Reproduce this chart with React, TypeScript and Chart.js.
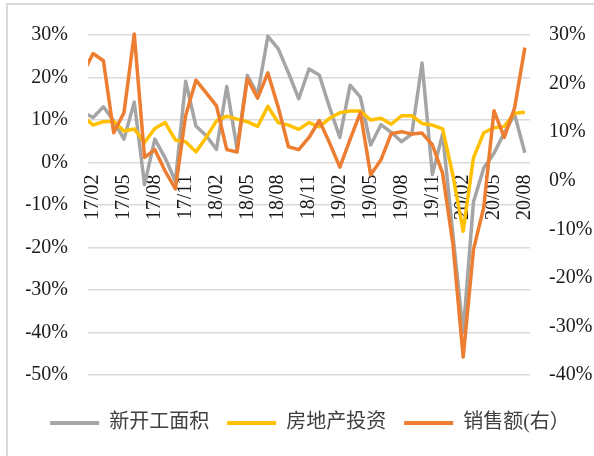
import { useEffect, useRef } from "react"
import { Chart, registerables } from "chart.js"

Chart.register(...registerables)

const FONT = '"Liberation Serif", "Noto Sans CJK SC", serif'

// monthly, yoy %
const months = [
  "17/01", "17/02", "17/03", "17/04", "17/05", "17/06", "17/07", "17/08", "17/09", "17/10", "17/11", "17/12",
  "18/01", "18/02", "18/03", "18/04", "18/05", "18/06", "18/07", "18/08", "18/09", "18/10", "18/11", "18/12",
  "19/01", "19/02", "19/03", "19/04", "19/05", "19/06", "19/07", "19/08", "19/09", "19/10", "19/11", "19/12",
  "20/01", "20/02", "20/03", "20/04", "20/05", "20/06", "20/07", "20/08",
]

// 新开工面积 (left axis)
const newStarts = [
  11.8, 10.6, 13.1, 9.8, 5.5, 14.2, -5.2, 5.5, 1.1, -4.4, 19.1, 8.6,
  6.3, 3.1, 17.9, 3.2, 20.5, 16.0, 29.7, 26.8, 21.1, 15.0, 22.0, 20.6,
  13.0, 5.9, 18.2, 15.4, 4.1, 8.9, 7.1, 4.9, 6.7, 23.4, -2.8, 6.7,
  -17.0, -40.0, -9.3, -1.3, 2.2, 7.0, 11.3, 2.3,
]

// 房地产投资 (left axis)
const investment = [
  10.9, 8.8, 9.6, 9.7, 7.4, 7.9, 4.7, 8.0, 9.4, 5.3, 4.9, 2.5,
  5.9, 9.8, 10.9, 10.2, 9.6, 8.5, 13.2, 9.4, 8.8, 7.8, 9.4, 8.4,
  10.4, 11.7, 12.1, 12.1, 10.0, 10.4, 9.0, 11.0, 11.0, 9.2, 8.8, 7.9,
  -3.0, -16.2, 1.1, 7.0, 8.2, 8.5, 11.6, 11.8,
]

// 销售额 (right axis)
const sales = [
  22.1, 26.2, 24.7, 9.9, 14.0, 30.2, 4.8, 6.4, 2.0, -1.7, 13.4, 20.7,
  18.1, 15.4, 6.4, 5.9, 21.0, 17.0, 22.2, 15.2, 7.0, 6.4, 8.9, 12.4,
  7.8, 2.8, 8.5, 14.0, 1.2, 4.3, 9.7, 10.1, 9.6, 9.8, 7.4, 1.5,
  -13.0, -36.3, -14.2, -5.5, 14.4, 8.9, 15.0, 27.4,
]

const leftRange = { min: -50, max: 30, step: 10 }
const rightRange = { min: -40, max: 30, step: 10 }

export default function App() {
  const canvasRef = useRef<HTMLCanvasElement>(null)
  const chartRef = useRef<Chart | null>(null)

  useEffect(() => {
    if (!canvasRef.current) return
    if (chartRef.current) chartRef.current.destroy()

    const clip = { left: 0, top: 5, right: 5, bottom: 5 }

    chartRef.current = new Chart(canvasRef.current, {
      type: "line",
      data: {
        labels: months,
        datasets: [
          {
            label: "新开工面积",
            data: newStarts,
            borderColor: "#a5a5a5",
            backgroundColor: "#a5a5a5",
            yAxisID: "y",
            order: 3,
            clip,
          },
          {
            label: "房地产投资",
            data: investment,
            borderColor: "#ffc000",
            backgroundColor: "#ffc000",
            yAxisID: "y",
            order: 2,
            clip,
          },
          {
            label: "销售额(右）",
            data: sales,
            borderColor: "#ed7d31",
            backgroundColor: "#ed7d31",
            yAxisID: "y1",
            order: 1,
            clip,
          },
        ],
      },
      options: {
        animation: false,
        responsive: true,
        maintainAspectRatio: false,
        elements: {
          line: { borderWidth: 3.5, tension: 0, borderJoinStyle: "round" },
          point: { radius: 0 },
        },
        layout: { padding: { left: 26, right: 0, top: 35, bottom: 13 } },
        plugins: {
          tooltip: { enabled: false },
          legend: {
            position: "bottom",
            // empty title only reserves the gap under the plot area
            title: { display: true, text: "", font: { size: 1, lineHeight: 1 }, padding: { top: 19, bottom: 0 } },
            labels: {
              boxWidth: 49,
              boxHeight: 4,
              padding: 18,
              color: "#404040",
              font: { family: FONT, size: 20 },
              sort: (a, b) => (a.datasetIndex ?? 0) - (b.datasetIndex ?? 0),
              generateLabels: (chart) =>
                Chart.defaults.plugins.legend.labels
                  .generateLabels(chart)
                  .map((item) => ({ ...item, fillStyle: item.strokeStyle, lineWidth: 0 })),
            },
          },
        },
        scales: {
          x: {
            type: "category",
            min: "17/02",
            offset: true,
            position: { y: 0 },
            grid: { display: false, drawTicks: false },
            border: { display: false },
            ticks: {
              autoSkip: false,
              minRotation: 90,
              maxRotation: 90,
              padding: 12,
              color: "#1a1a1a",
              font: { family: FONT, size: 20 },
              callback: (value) => {
                const i = Number(value)
                return (i - 1) % 3 === 0 ? months[i] : ""
              },
            },
          },
          y: {
            position: "left",
            min: leftRange.min,
            max: leftRange.max,
            grid: { color: "#d9d9d9", lineWidth: 1.5, drawTicks: false },
            border: { display: false },
            ticks: {
              stepSize: leftRange.step,
              padding: 20,
              color: "#1a1a1a",
              font: { family: FONT, size: 20 },
              callback: (v) => `${v}%`,
            },
            afterFit: (scale) => {
              scale.width = 62
            },
          },
          y1: {
            position: "right",
            min: rightRange.min,
            max: rightRange.max,
            grid: { display: false, drawTicks: false },
            border: { display: false },
            ticks: {
              stepSize: rightRange.step,
              padding: 19,
              color: "#1a1a1a",
              font: { family: FONT, size: 20 },
              callback: (v) => `${v}%`,
            },
            afterFit: (scale) => {
              scale.width = 64
            },
          },
        },
      },
    })

    return () => {
      if (chartRef.current) {
        chartRef.current.destroy()
        chartRef.current = null
      }
    }
  }, [])

  return (
    <div style={{ position: "absolute", left: 0, top: 0, width: 594, height: 456, background: "#fff", overflow: "hidden" }}>
      <div
        style={{
          position: "absolute",
          left: 6,
          top: 3,
          width: 620,
          height: 480,
          borderLeft: "2px solid #d9d9d9",
          borderTop: "2px solid #d9d9d9",
        }}
      />
      <div style={{ position: "absolute", left: 0, top: 0, width: 594, height: 456 }}>
        <canvas ref={canvasRef} />
      </div>
    </div>
  )
}
